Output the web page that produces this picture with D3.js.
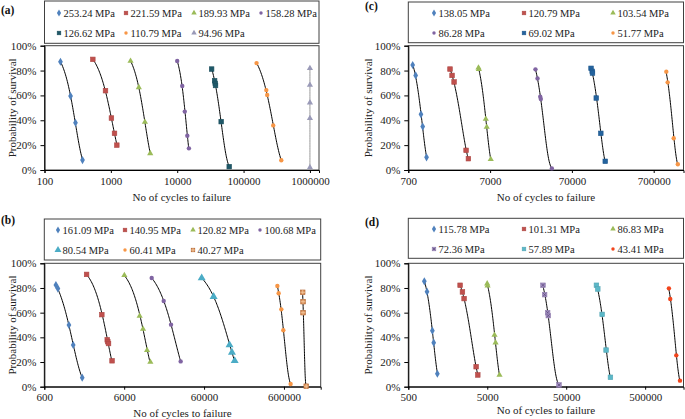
<!DOCTYPE html>
<html>
<head>
<meta charset="utf-8">
<script src="https://cdn.jsdelivr.net/npm/d3@7"></script>
<style>
body { margin: 0; background: #fff; }
</style>
</head>
<body>
<svg id="chart" width="685" height="419"></svg>
<script>
// ---- data: (a)
const stressA = ["253.24 MPa", "221.59 MPa", "189.93 MPa", "158.28 MPa", "126.62 MPa", "110.79 MPa", "94.96 MPa"];
const cyclesA = [
	[174, 247, 293, 374],
	[535, 830, 1020, 1135, 1230],
	[1980, 2640, 3260, 3920],
	[10000, 11900, 13000, 14200, 15000],
	[33000, 36600, 37400, 37800, 46000, 60800],
	[157000, 220000, 227000, 280000, 370000],
	[1000000, 1000000, 1000000, 1000000, 1000000]
];
const survivalA = [
	[0.871, 0.595, 0.38, 0.08],
	[0.89, 0.638, 0.418, 0.295, 0.20],
	[0.877, 0.665, 0.386, 0.134],
	[0.877, 0.676, 0.47, 0.276, 0.174],
	[0.812, 0.718, 0.697, 0.68, 0.389, 0.027],
	[0.86, 0.643, 0.603, 0.359, 0.078],
	[0.818, 0.684, 0.542, 0.416, 0.021]
];
const ticksA = [100, 1000, 10000, 100000, 1000000];

// ---- data: (b)
const stressB = ["161.09 MPa", "140.95 MPa", "120.82 MPa", "100.68 MPa", "80.54 MPa", "60.41 MPa", "40.27 MPa"];
const cyclesB = [
	[838, 888, 1220, 1380, 1790],
	[2030, 3150, 3680, 3740, 3820, 4230],
	[6030, 9370, 10330, 11600, 12760],
	[13260, 18740, 23150, 30570],
	[56000, 79000, 125000, 134000, 145000],
	[496000, 515000, 556000, 589000, 727000],
	[1030000, 1040000, 1040000, 1140000]
];
const survivalB = [
	[0.824, 0.795, 0.50, 0.338, 0.073],
	[0.91, 0.584, 0.38, 0.365, 0.35, 0.21],
	[0.903, 0.573, 0.468, 0.295, 0.20],
	[0.881, 0.695, 0.503, 0.205],
	[0.881, 0.73, 0.338, 0.278, 0.21],
	[0.816, 0.757, 0.627, 0.457, 0.022],
	[0.765, 0.689, 0.60, 0.004]
];
const ticksB = [600, 6000, 60000, 600000];

// ---- data: (c)
const stressC = ["138.05 MPa", "120.79 MPa", "103.54 MPa", "86.28 MPa", "69.02 MPa", "51.77 MPa"];
const cyclesC = [
	[792, 861, 1000, 1050, 1170],
	[2265, 2400, 2540, 3560, 3800],
	[5050, 5100, 6200, 6370, 7130],
	[25100, 26600, 28700, 29200, 39800],
	[120000, 124000, 125000, 139000, 158000, 179000],
	[999000, 1037000, 1230000, 1380000]
];
const survivalC = [
	[0.845, 0.761, 0.448, 0.349, 0.102],
	[0.812, 0.761, 0.708, 0.158, 0.091],
	[0.823, 0.81, 0.41, 0.346, 0.086],
	[0.81, 0.737, 0.59, 0.571, 0.013],
	[0.818, 0.794, 0.78, 0.579, 0.295, 0.07],
	[0.791, 0.705, 0.255, 0.046]
];
const ticksC = [700, 7000, 70000, 700000];

// ---- data: (d)
const stressD = ["115.78 MPa", "101.31 MPa", "86.83 MPa", "72.36 MPa", "57.89 MPa", "43.41 MPa"];
const cyclesD = [
	[798, 863, 1009, 1049, 1167],
	[2265, 2425, 2545, 3615, 3795],
	[4990, 5050, 6180, 6370, 7150],
	[25400, 26650, 29100, 29650, 40500],
	[120700, 125600, 142600, 160000, 181600],
	[1000000, 1040000, 1240000, 1380000]
];
const survivalD = [
	[0.854, 0.77, 0.454, 0.357, 0.105],
	[0.822, 0.768, 0.714, 0.162, 0.095],
	[0.835, 0.819, 0.419, 0.357, 0.095],
	[0.822, 0.746, 0.60, 0.576, 0.014],
	[0.822, 0.792, 0.586, 0.297, 0.076],
	[0.797, 0.711, 0.254, 0.049]
];
const ticksD = [500, 5000, 50000, 500000];

const yTicks = [0, 0.2, 0.4, 0.6, 0.8, 1];

// ---- styles
const FONT = "'Liberation Serif', 'Times New Roman', serif";
const colorsA = ["#4f81bd", "#c0504d", "#9bbb59", "#8064a2", "#1f5868", "#f79646", "#9a9ab8"];
const shapesA = ["diamond", "square", "triangle", "circle", "square", "circle", "triangle"];
const colorsB = ["#4f81bd", "#c0504d", "#9bbb59", "#8064a2", "#4bacc6", "#f79646", "#d9905a"];
const shapesB = ["diamond", "square", "triangle", "circle", "bigtriangle", "circle", "patsquare"];
const colorsC = ["#4f81bd", "#c0504d", "#9bbb59", "#8064a2", "#24639e", "#f79646"];
const shapesC = ["diamond", "square", "triangle", "circle", "square", "circle"];
const colorsD = ["#4f81bd", "#c0504d", "#9bbb59", "#a08cc0", "#5cb8c8", "#f2441c"];
const shapesD = ["diamond", "square", "triangle", "xsquare", "square", "circle"];

const panels = [
	{ label: "(a)", lx: 1, ly: 10, left: 44.5, right: 319, top: 45.7, bottom: 170, xMin: 100, xMax: 1.37e6,
	  ticks: ticksA, legTop: 1, legBot: 43.3, cols: [59, 126, 194, 261], rows: [13, 33],
	  names: stressA, cycles: cyclesA, surv: survivalA, colors: colorsA, shapes: shapesA, xTitleY: 197, yTitleX: 12 },
	{ label: "(b)", lx: 1, ly: 220, left: 44.3, right: 320.7, top: 263.3, bottom: 386.7, xMin: 600, xMax: 1.73e6,
	  ticks: ticksB, legTop: 219, legBot: 260, cols: [58, 125, 193, 260], rows: [230, 250],
	  names: stressB, cycles: cyclesB, surv: survivalB, colors: colorsB, shapes: shapesB, xTitleY: 413, yTitleX: 12 },
	{ label: "(c)", lx: 365, ly: 6, left: 408.3, right: 683.5, top: 45.7, bottom: 170, xMin: 700, xMax: 1.62e6,
	  ticks: ticksC, legTop: 2, legBot: 42.7, cols: [434, 524, 613], rows: [13, 33],
	  names: stressC, cycles: cyclesC, surv: survivalC, colors: colorsC, shapes: shapesC, xTitleY: 197, yTitleX: 368 },
	{ label: "(d)", lx: 365, ly: 222, left: 408.3, right: 683.5, top: 263.3, bottom: 386.7, xMin: 500, xMax: 1.53e6,
	  ticks: ticksD, legTop: 218.3, legBot: 258.3, cols: [434, 524, 613], rows: [229, 249],
	  names: stressD, cycles: cyclesD, surv: survivalD, colors: colorsD, shapes: shapesD, xTitleY: 410, yTitleX: 368 }
];

const svg = d3.select("#chart").attr("font-family", FONT);

function drawMarker(g, shape, color, x, y, s) {
	let m = g.append("g").attr("transform", `translate(${x},${y})`);
	if (shape === "diamond") {
		m.append("path").attr("d", d3.symbol(d3.symbolDiamond, s * 4.2)()).attr("fill", color);
	} else if (shape === "square" || shape === "patsquare" || shape === "xsquare") {
		m.append("rect").attr("x", -s / 2).attr("y", -s / 2).attr("width", s).attr("height", s)
			.attr("fill", color).attr("stroke", shape === "patsquare" ? "#b0602b" : d3.color(color).darker(0.3)).attr("stroke-width", 0.6);
		if (shape === "xsquare") {
			m.append("path").attr("d", `M${-s / 3},${-s / 3}L${s / 3},${s / 3}M${s / 3},${-s / 3}L${-s / 3},${s / 3}`)
				.attr("stroke", "#5b4a7a").attr("stroke-width", 0.7);
		}
		if (shape === "patsquare") {
			m.append("path").attr("d", `M${-s / 2},0H${s / 2}M0,${-s / 2}V${s / 2}`)
				.attr("stroke", "#f6d0a8").attr("stroke-width", 0.7);
		}
	} else if (shape === "triangle") {
		m.append("path").attr("d", d3.symbol(d3.symbolTriangle, s * 3.6)()).attr("fill", color);
	} else if (shape === "bigtriangle") {
		m.append("path").attr("d", d3.symbol(d3.symbolTriangle, s * 6)()).attr("fill", color);
	} else {
		m.append("circle").attr("r", s / 2.1).attr("fill", color);
	}
}

// Weibull fit, regressing ln N on ln(-ln P)
function weibullCurve(ns, ps) {
	let u = ps.map(p => Math.log(-Math.log(p)));
	let v = ns.map(n => Math.log(n));
	let mu = d3.mean(u), mv = d3.mean(v);
	let suu = d3.sum(u, d => (d - mu) * (d - mu));
	let suv = d3.sum(u.map((d, i) => (d - mu) * (v[i] - mv)));
	let b = suu > 0 ? suv / suu : 0;
	let a = mv - b * mu;
	let pHi = d3.max(ps), pLo = d3.min(ps);
	return d3.range(0, 61).map(i => {
		let p = pHi - (pHi - pLo) * i / 60;
		return [Math.exp(a + b * Math.log(-Math.log(p))), p];
	});
}

panels.forEach(pn => {
	let g = svg.append("g");
	let x = d3.scaleLog().domain([pn.xMin, pn.xMax]).range([pn.left, pn.right]);
	let y = d3.scaleLinear().domain([0, 1]).range([pn.bottom, pn.top]);

	// panel label
	g.append("text").attr("x", pn.lx).attr("y", pn.ly).attr("dy", "0.35em")
		.attr("font-family", FONT).attr("font-size", 11.5).attr("font-weight", "bold").attr("fill", "#111").text(pn.label);

	// legend
	g.append("rect").attr("x", pn.left).attr("y", pn.legTop)
		.attr("width", pn.right - pn.left).attr("height", pn.legBot - pn.legTop)
		.attr("fill", "none").attr("stroke", "#404040").attr("stroke-width", 1);
	pn.names.forEach((nm, i) => {
		let cx = pn.cols[i % pn.cols.length], cy = pn.rows[Math.floor(i / pn.cols.length)];
		drawMarker(g, pn.shapes[i], pn.colors[i], cx, cy, 3.6);
		g.append("text").attr("x", cx + 4.5).attr("y", cy).attr("dy", "0.35em")
			.attr("font-family", FONT).attr("font-size", 10.5).attr("fill", "#222").text(nm);
	});

	// plot frame
	g.append("rect").attr("x", pn.left).attr("y", pn.top)
		.attr("width", pn.right - pn.left).attr("height", pn.bottom - pn.top)
		.attr("fill", "none").attr("stroke", "#404040").attr("stroke-width", 1);

	// axes
	let xAxis = g.append("g").attr("transform", `translate(0,${pn.bottom})`)
		.call(d3.axisBottom(x).tickValues(pn.ticks).tickFormat(d3.format("d")).tickSize(3).tickPadding(4));
	let yAxis = g.append("g").attr("transform", `translate(${pn.left},0)`)
		.call(d3.axisLeft(y).tickValues(yTicks).tickFormat(d3.format(".0%")).tickSize(4).tickPadding(4));
	[xAxis, yAxis].forEach(ax => {
		ax.attr("font-family", FONT).attr("font-size", 11);
		ax.select(".domain").attr("stroke", "#000");
		ax.selectAll(".tick line").attr("stroke", "#000");
		ax.selectAll(".tick text").attr("fill", "#222");
	});

	// titles
	g.append("text").attr("x", (pn.left + pn.right) / 2).attr("y", pn.xTitleY).attr("dy", "0.35em")
		.attr("text-anchor", "middle").attr("font-family", FONT).attr("font-size", 11).attr("fill", "#222")
		.text("No of cycles to failure");
	g.append("text").attr("transform", `translate(${pn.yTitleX},${(pn.top + pn.bottom) / 2}) rotate(-90)`)
		.attr("dy", "0.35em").attr("text-anchor", "middle").attr("font-family", FONT).attr("font-size", 11)
		.attr("fill", "#222").text("Probability of survival");

	// fitted curves and points
	pn.cycles.forEach((ns, i) => {
		let ps = pn.surv[i];
		let col = pn.colors[i] === "#9a9ab8" ? "#999" : "#000";
		g.append("path").datum(weibullCurve(ns, ps)).attr("d", d3.line().x(d => x(d[0])).y(d => y(d[1])))
			.attr("fill", "none").attr("stroke", col).attr("stroke-width", 1);
	});
	pn.cycles.forEach((ns, i) => {
		ns.forEach((n, j) => drawMarker(g, pn.shapes[i], pn.colors[i], x(n), y(pn.surv[i][j]), 4.6));
	});
});
</script>
</body>
</html>
